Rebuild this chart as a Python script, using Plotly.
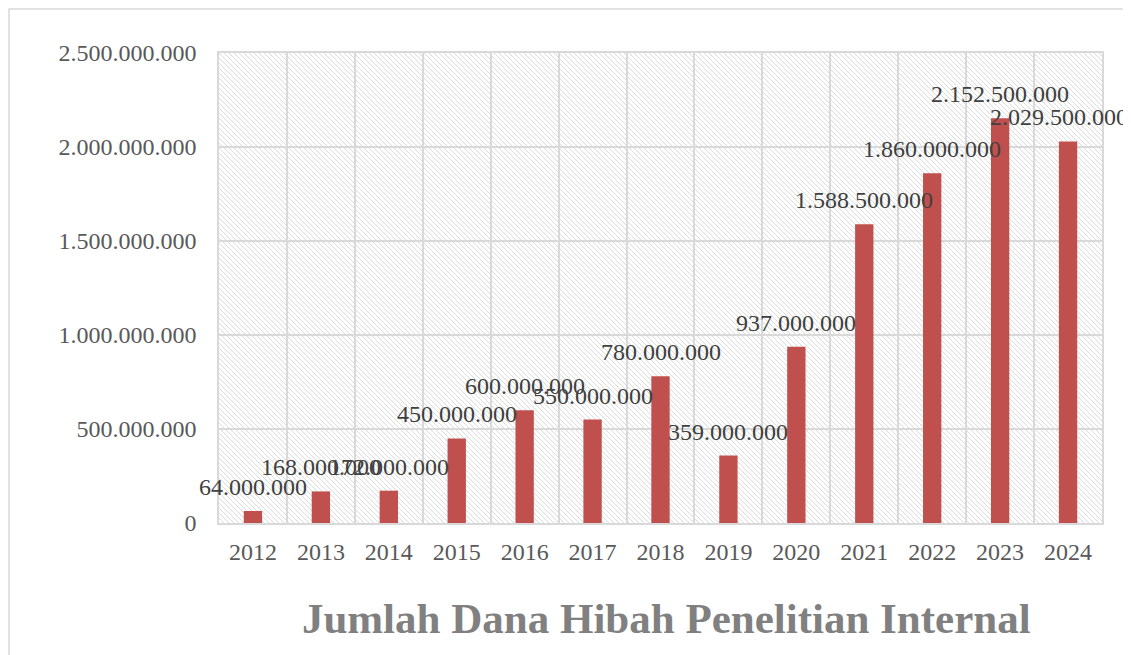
import base64
import plotly.graph_objects as go

# --- data ---
years = ["2012", "2013", "2014", "2015", "2016", "2017", "2018",
         "2019", "2020", "2021", "2022", "2023", "2024"]
dana = [64000000, 168000000, 172000000, 450000000, 600000000, 550000000,
        780000000, 359000000, 937000000, 1588500000, 1860000000,
        2152500000, 2029500000]
y_ticks = [0, 500000000, 1000000000, 1500000000, 2000000000, 2500000000]
title_text = "Jumlah Dana Hibah Penelitian Internal"

FONT = "Liberation Serif, Times New Roman, serif"
GRID = "#d9d9d9"

# hatched plot background (excel style "wide downward diagonal")
p = 5
svg = (
    "<svg xmlns='http://www.w3.org/2000/svg' width='883' height='470'>"
    f"<defs><pattern id='h' width='{p}' height='{p}' patternUnits='userSpaceOnUse'>"
    f"<path d='M0,0 L{p},{p} M-1,{p-1} L1,{p+1} M{p-1},-1 L{p+1},1' "
    "stroke='#dcdcdc' stroke-width='1'/></pattern></defs>"
    "<rect width='100%' height='100%' fill='white'/>"
    "<rect width='100%' height='100%' fill='url(#h)'/></svg>"
)
hatch = "data:image/svg+xml;base64," + base64.b64encode(svg.encode()).decode()

L, T, W, H = 211, 45, 883, 470  # plot area in figure pixels

fig = go.Figure()
fig.add_trace(go.Bar(
    x=years, y=dana, width=0.27,
    marker=dict(color="#C0504D", line=dict(width=0)),
    showlegend=False, hoverinfo="x+y",
))

# data labels (x as category index so they don't get read as numbers)
for i, v in enumerate(dana):
    fig.add_annotation(
        x=i, y=v, text=f"{v:,}".replace(",", "."),
        showarrow=False, yanchor="bottom", yshift=9,
        xshift=-9 if i == len(dana) - 1 else 0,  # keep last one inside the chart
        font=dict(family=FONT, size=24, color="#404040"),
    )

fig.update_layout(
    width=1131, height=655,
    margin=dict(l=L, r=1131 - L - W, t=T, b=655 - T - H),
    paper_bgcolor="white", plot_bgcolor="white",
    separators=",.",
    font=dict(family=FONT, size=24, color="#595959"),
    title=dict(
        text=f"<b>{title_text}</b>",
        x=0.582, y=0.069, xanchor="center", yanchor="middle",
        font=dict(family=FONT, size=43, color="#808080"),
    ),
    images=[dict(
        source=hatch, xref="paper", yref="paper", x=0, y=1,
        sizex=1, sizey=1, sizing="stretch", layer="below",
        xanchor="left", yanchor="top",
    )],
    # outer chart border
    shapes=[dict(
        type="rect", xref="paper", yref="paper",
        x0=-(L - 1) / W, x1=1.3, y0=-0.5, y1=(T + H - 1) / H,
        line=dict(color=GRID, width=1.5), fillcolor="rgba(0,0,0,0)",
    )],
)

fig.update_xaxes(
    type="category", tickson="boundaries",
    range=[-0.5, len(years) - 0.5], autorange=False,
    showgrid=True, gridcolor=GRID, gridwidth=1.5,
    showline=True, linecolor=GRID, linewidth=1.5, mirror=True,
    ticks="", ticklabelstandoff=6, tickangle=0,
    tickfont=dict(family=FONT, size=24, color="#595959"),
)
fig.update_yaxes(
    range=[0, 2500000000], tickvals=y_ticks, tickformat=",d",
    showgrid=True, gridcolor=GRID, gridwidth=1.5, zeroline=False,
    showline=True, linecolor=GRID, linewidth=1.5, mirror=True,
    ticks="", ticklabelstandoff=16,
    tickfont=dict(family=FONT, size=24, color="#595959"),
)

fig.write_html("out.html")
